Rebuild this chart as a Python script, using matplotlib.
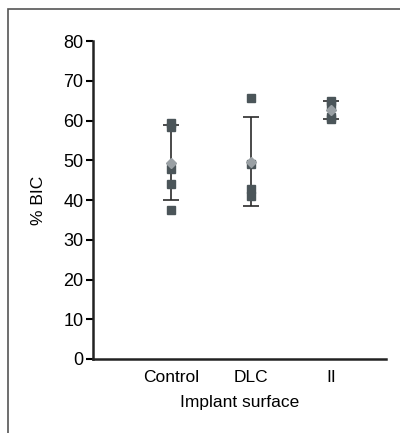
import numpy as np
import matplotlib.pyplot as plt
from matplotlib.patches import Rectangle

# Data (% BIC per implant surface)
groups = ['Control', 'DLC', 'II']
control = [59.5, 58.5, 47.7, 44.0, 37.4]
dlc = [65.6, 49.0, 42.8, 41.0]
ii = [65.0, 64.0, 61.0, 60.5]
values = [control, dlc, ii]

square_col = '#4b5559'
mean_col = '#9aa0a4'
bar_col = '#2b2b2b'

plt.rcParams['font.family'] = ['Liberation Sans', 'DejaVu Sans']

fig = plt.figure(figsize=(4, 4.33), dpi=100)
ax = fig.add_axes([0.2325, 0.171, 0.7325, 0.734])

# frame around the panel (cut off at right and bottom)
fig.patches.append(Rectangle((0.02, -0.1), 1.2, 1.08, transform=fig.transFigure,
                             fill=False, edgecolor='#555555', linewidth=1.2))

for i, vals in enumerate(values):
    m = np.mean(vals)
    sd = np.std(vals, ddof=1)
    ax.errorbar(i, m, yerr=sd, fmt='none', ecolor=bar_col, elinewidth=1.2,
                capsize=5.5, capthick=1.2, zorder=2)
    ax.plot([i] * len(vals), vals, 's', color=square_col, markersize=5.5,
            zorder=3, linestyle='none')
    ax.plot(i, m, 'D', color=mean_col, markersize=5.5, zorder=4)

ax.set_xlim(-0.97, 2.68)
ax.set_ylim(0, 80)
ax.set_yticks(range(0, 81, 10))
ax.set_xticks(range(len(groups)))
ax.set_xticklabels(groups, fontsize=12.5)
ax.tick_params(axis='x', length=0, pad=8)
ax.tick_params(axis='y', length=5, width=1.5, labelsize=13, pad=2)

for s in ['top', 'right']:
    ax.spines[s].set_visible(False)
for s in ['left', 'bottom']:
    ax.spines[s].set_linewidth(1.8)
    ax.spines[s].set_color('#222222')

ax.set_ylabel('% BIC', fontsize=12.5, labelpad=12)
ax.set_xlabel('Implant surface', fontsize=12.5, labelpad=7)

fig.savefig('out.png', dpi=100)
